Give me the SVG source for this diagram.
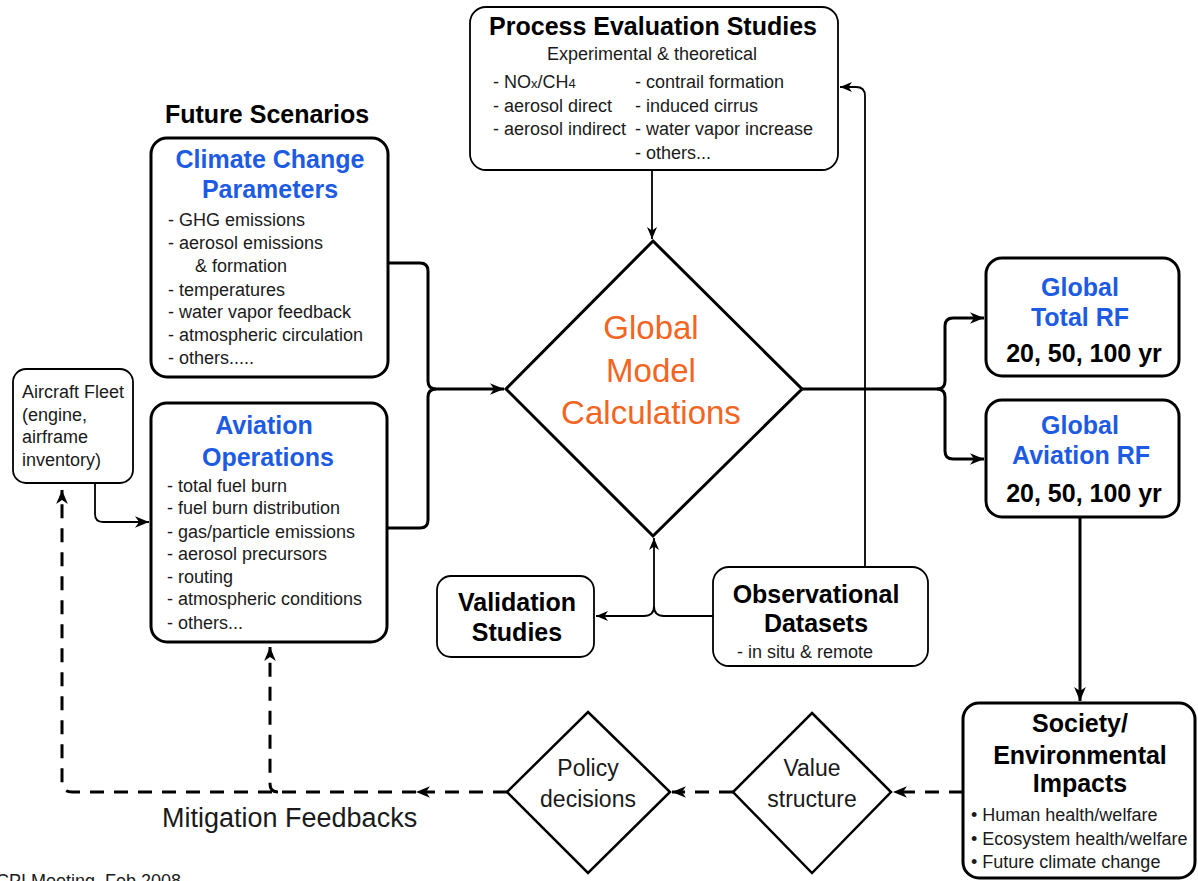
<svg xmlns="http://www.w3.org/2000/svg" width="1198" height="881" viewBox="0 0 1198 881">
<style>
.box{fill:#fff;stroke:#000;stroke-width:3}
.thin{fill:#fff;stroke:#000;stroke-width:1.8}
.t{font-family:"Liberation Sans",Arial,sans-serif;font-size:18px;fill:#1a1a1a}
.b{font-family:"Liberation Sans",Arial,sans-serif;font-weight:bold;font-size:25px;fill:#000}
.blue{fill:#1d5be3}
.or{font-family:"Liberation Sans",Arial,sans-serif;font-size:33px;fill:#f26522}
.c{text-anchor:middle}
.ln{fill:none;stroke:#000;stroke-width:3}
.lt{fill:none;stroke:#000;stroke-width:1.8}
.ds{fill:none;stroke:#000;stroke-width:3;stroke-dasharray:14 10}
</style>
<defs>
<marker id="ah" viewBox="0 0 12 10" refX="12" refY="5" markerWidth="14" markerHeight="12" orient="auto" markerUnits="userSpaceOnUse"><path d="M0,0 L12,5 L0,10 L3.5,5 z" fill="#000" stroke="none"/></marker>
<marker id="ahs" viewBox="0 0 12 10" refX="12" refY="5" markerWidth="12" markerHeight="10" orient="auto" markerUnits="userSpaceOnUse"><path d="M0,0 L12,5 L0,10 L3.5,5 z" fill="#000" stroke="none"/></marker>
</defs>
<rect width="1198" height="881" fill="#fff"/>

<g id="connectors">
<path class="lt" d="M652,170 V239" marker-end="url(#ahs)"/>
<path class="lt" d="M865,567 V96 Q865,87 856,87 H840" marker-end="url(#ahs)"/>
<path class="lt" d="M713,616 H664 Q654,616 654,606 V538" marker-end="url(#ahs)"/>
<path class="lt" d="M654,606 Q654,616 644,616 H596" marker-end="url(#ahs)"/>
<path class="ln" d="M388,263 H420 Q428,263 428,271 V381 Q428,389 436,389 H504" marker-end="url(#ah)"/>
<path class="ln" d="M387,528 H420 Q428,528 428,520 V397 Q428,389 436,389"/>
<path class="ln" d="M802,389 H937 Q945,389 945,381 V326 Q945,318 953,318 H984" marker-end="url(#ah)"/>
<path class="ln" d="M937,389 Q945,389 945,397 V451 Q945,459 953,459 H984" marker-end="url(#ah)"/>
<path class="ln" d="M1080,517 V701" marker-end="url(#ah)"/>
<path class="lt" d="M95,483 V514 Q95,522 103,522 H149" marker-end="url(#ah)"/>
<path class="ds" d="M963,792 H893" marker-end="url(#ah)"/>
<path class="ds" d="M733,792 H672" marker-end="url(#ah)"/>
<path class="ds" d="M507,792 H416" marker-end="url(#ah)"/>
<path class="ds" d="M416,792 H72 Q62,792 62,782 V490" marker-end="url(#ah)"/>
<path class="ds" d="M278,792 Q270,792 270,784 V647" marker-end="url(#ah)"/>
</g>

<g id="process">
<rect class="thin" x="470" y="7" width="368" height="163" rx="16"/>
<text class="b c" x="653" y="35">Process Evaluation Studies</text>
<text class="t c" x="652" y="60">Experimental &amp; theoretical</text>
<text class="t" x="493" y="88">- NO<tspan font-size="13">x</tspan>/CH<tspan font-size="13">4</tspan></text>
<text class="t" x="493" y="112">- aerosol direct</text>
<text class="t" x="493" y="135">- aerosol indirect</text>
<text class="t" x="635" y="88">- contrail formation</text>
<text class="t" x="635" y="112">- induced cirrus</text>
<text class="t" x="635" y="135">- water vapor increase</text>
<text class="t" x="635" y="159">- others...</text>
</g>

<g id="future-scenarios">
<text class="b" x="165" y="123">Future Scenarios</text>
</g>

<g id="climate">
<rect class="box" x="151" y="138" width="237" height="239" rx="16"/>
<text class="b blue c" x="270" y="168">Climate Change</text>
<text class="b blue c" x="270" y="198">Parameters</text>
<text class="t" x="168" y="226">- GHG emissions</text>
<text class="t" x="168" y="249">- aerosol emissions</text>
<text class="t" x="195" y="272">&amp; formation</text>
<text class="t" x="168" y="296">- temperatures</text>
<text class="t" x="168" y="318">- water vapor feedback</text>
<text class="t" x="168" y="341">- atmospheric circulation</text>
<text class="t" x="168" y="364">- others.....</text>
</g>

<g id="aviation">
<rect class="box" x="151" y="403" width="236" height="239" rx="16"/>
<text class="b blue c" x="264" y="434">Aviation</text>
<text class="b blue c" x="268" y="466">Operations</text>
<text class="t" x="167" y="492">- total fuel burn</text>
<text class="t" x="167" y="514">- fuel burn distribution</text>
<text class="t" x="167" y="538">- gas/particle emissions</text>
<text class="t" x="167" y="560">- aerosol precursors</text>
<text class="t" x="167" y="583">- routing</text>
<text class="t" x="167" y="605">- atmospheric conditions</text>
<text class="t" x="167" y="629">- others...</text>
</g>

<g id="aircraft">
<rect class="thin" x="13" y="369" width="120" height="114" rx="13"/>
<text class="t" x="22" y="398">Aircraft Fleet</text>
<text class="t" x="22" y="421">(engine,</text>
<text class="t" x="22" y="443">airframe</text>
<text class="t" x="22" y="466">inventory)</text>
</g>

<g id="global-model">
<polygon points="653,241 802,389 653,536 506,389" fill="#fff" stroke="#000" stroke-width="3"/>
<text class="or c" x="651" y="339">Global</text>
<text class="or c" x="651" y="382">Model</text>
<text class="or c" x="651" y="424">Calculations</text>
</g>

<g id="validation">
<rect class="thin" x="437" y="576" width="157" height="81" rx="14"/>
<text class="b c" x="517" y="611">Validation</text>
<text class="b c" x="517" y="641">Studies</text>
</g>

<g id="observational">
<rect class="thin" x="713" y="567" width="215" height="99" rx="16"/>
<text class="b c" x="816" y="603">Observational</text>
<text class="b c" x="816" y="632">Datasets</text>
<text class="t" x="737" y="658">- in situ &amp; remote</text>
</g>

<g id="total-rf">
<rect class="box" x="986" y="258" width="193" height="118" rx="16"/>
<text class="b blue c" x="1080" y="296">Global</text>
<text class="b blue c" x="1080" y="326">Total RF</text>
<text class="b c" x="1084" y="362">20, 50, 100 yr</text>
</g>

<g id="aviation-rf">
<rect class="box" x="986" y="400" width="193" height="117" rx="16"/>
<text class="b blue c" x="1080" y="434">Global</text>
<text class="b blue c" x="1081" y="464">Aviation RF</text>
<text class="b c" x="1084" y="502">20, 50, 100 yr</text>
</g>

<g id="society">
<rect class="box" x="963" y="703" width="232" height="175" rx="16"/>
<text class="b c" x="1080" y="732">Society/</text>
<text class="b c" x="1080" y="764">Environmental</text>
<text class="b c" x="1080" y="792">Impacts</text>
<text class="t" x="971" y="821">• Human health/welfare</text>
<text class="t" x="971" y="845">• Ecosystem health/welfare</text>
<text class="t" x="971" y="868">• Future climate change</text>
</g>

<g id="value">
<polygon points="812,713 891,792 812,873 733,792" fill="#fff" stroke="#000" stroke-width="2.5"/>
<text class="t c" x="812" y="776" style="font-size:23px">Value</text>
<text class="t c" x="812" y="807" style="font-size:23px">structure</text>
</g>

<g id="policy">
<polygon points="588,712 670,792 588,873 507,792" fill="#fff" stroke="#000" stroke-width="2.5"/>
<text class="t c" x="588" y="776" style="font-size:23px">Policy</text>
<text class="t c" x="588" y="807" style="font-size:23px">decisions</text>
</g>

<g id="mitigation-label">
<text class="t" x="162" y="827" style="font-size:27px">Mitigation Feedbacks</text>
</g>
<text class="t" x="-4" y="887">CPI Meeting, Feb 2008</text>
</svg>
